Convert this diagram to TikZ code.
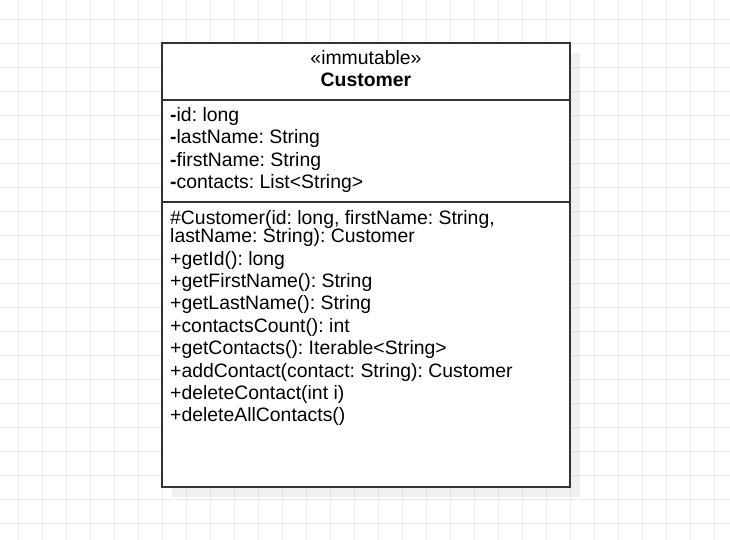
\documentclass[tikz,border=0pt]{standalone}
\usepackage{fontspec}
\setmainfont{Liberation Sans}
\definecolor{gridc}{HTML}{EBEBEB}
\definecolor{borderc}{HTML}{333333}
\frenchspacing
\begin{document}
\begin{tikzpicture}[x=1pt,y=-1pt,
  txt/.style={anchor=base west, inner sep=0pt, font=\fontsize{19.4}{22}\selectfont, text=black},
  ctxt/.style={anchor=base, inner sep=0pt, font=\fontsize{19.4}{22}\selectfont, text=black},
  classbox/.style={draw=borderc, line width=2pt, fill=white},
  shadowbox/.style={fill=black, fill opacity=0.06, draw=none},
  sep/.style={draw=borderc, line width=2pt}]
\useasboundingbox (0,0) rectangle (730,540);
\fill[white] (0,0) rectangle (730,540);
% grid
\foreach \i in {0,...,30} {\draw[gridc, line width=1pt] (18.3+24*\i,0) -- (18.3+24*\i,540);}
\foreach \j in {0,...,22} {\draw[gridc, line width=1pt] (0,19.3+24*\j) -- (730,19.3+24*\j);}
% shadow and box
\fill[shadowbox] (172,53) rectangle (580,497);
\path[classbox] (162,43.3) rectangle (570,487);
\coordinate (s1l) at (162,100);
\coordinate (s1r) at (570,100);
\coordinate (s2l) at (162,201.7);
\coordinate (s2r) at (570,201.7);
\draw[sep] (s1l) -- (s1r);
\draw[sep] (s2l) -- (s2r);
% header
\node[ctxt] (st) at (366,65) {«immutable»};
\node[ctxt, font=\fontsize{19.4}{22}\selectfont\bfseries] (nm) at (366,86.7) {Customer};
% attributes
\node[txt] (a1) at (170,121.7) {\textbf{-}id: long};
\node[txt] (a2) at (170,144) {\textbf{-}lastName: String};
\node[txt] (a3) at (170,166.3) {\textbf{-}firstName: String};
\node[txt] (a4) at (170,188.6) {\textbf{-}contacts: List<String>};
% methods
\node[txt] (m0a) at (170,224) {\#Customer(id: long, firstName: String,};
\node[txt] (m0b) at (170,242.5) {lastName: String): Customer};
\node[txt] (m1) at (170,265) {+getId(): long};
\node[txt] (m2) at (170,287.4) {+getFirstName(): String};
\node[txt] (m3) at (170,309.8) {+getLastName(): String};
\node[txt] (m4) at (170,332.2) {+contactsCount(): int};
\node[txt] (m5) at (170,354.6) {+getContacts(): Iterable<String>};
\node[txt] (m6) at (170,377) {+addContact(contact: String): Customer};
\node[txt] (m7) at (170,399.4) {+deleteContact(int i)};
\node[txt] (m8) at (170,421.8) {+deleteAllContacts()};
\end{tikzpicture}
\end{document}
